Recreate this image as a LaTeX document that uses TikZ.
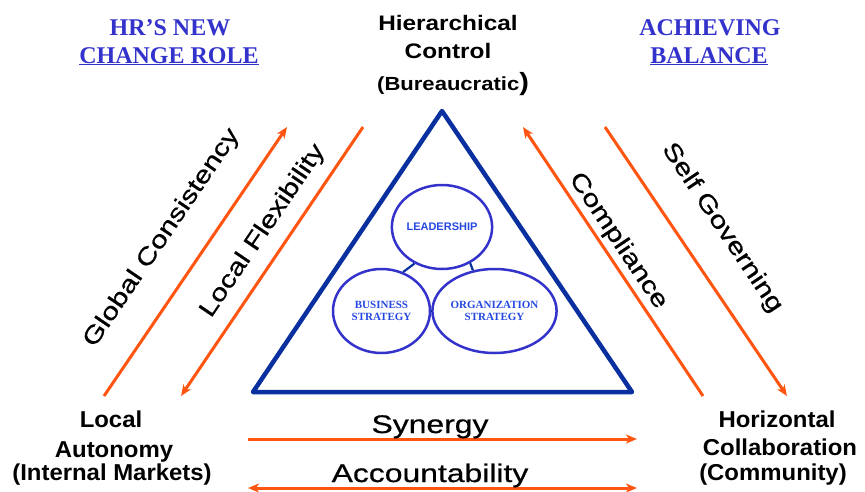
\documentclass[tikz,border=0pt]{standalone}
\usepackage{fontspec}
\setmainfont{Liberation Serif}
\newfontfamily\arialfont{Liberation Sans}
\newfontfamily\widefont[FakeStretch=1.25,FakeBold=0.6]{Liberation Sans}
\newfontfamily\headfont[FakeStretch=1.16]{Liberation Sans}
\newfontfamily\cornerfont[FakeStretch=1.04]{Liberation Sans}
\usetikzlibrary{arrows.meta,shapes.geometric}
\definecolor{titleblue}{HTML}{3333CC}
\definecolor{triblue}{HTML}{0A2F9E}
\definecolor{circblue}{HTML}{3333CC}
\definecolor{circtext}{HTML}{2448E0}
\definecolor{arrorange}{HTML}{FF5511}
\tikzset{
  x=1pt, y=-1pt,
  title/.style={font=\fontsize{24}{26}\selectfont\bfseries, text=titleblue, inner sep=0pt, anchor=base},
  head/.style={font=\fontsize{21}{23}\selectfont\headfont\bfseries, inner sep=0pt, anchor=base},
  corner/.style={font=\fontsize{23}{25}\selectfont\cornerfont\bfseries, inner sep=0pt, anchor=base},
  wide/.style={font=\fontsize{24}{26}\selectfont\widefont, inner sep=0pt},
  arr/.style={draw=arrorange, line width=3pt},
  circ/.style={draw=circblue, line width=2.5pt, ellipse, inner sep=0pt, align=center, text=circtext},
  link/.style={draw=triblue, line width=2.2pt},
}
\begin{document}
\begin{tikzpicture}
\useasboundingbox (0,0) rectangle (865,491);

% titles
\node[title] (t1) at (170,35) {HR’S NEW};
\node[title] (t2) at (169,63) {\underline{CHANGE ROLE}};
\node[title] (t3) at (710,35) {ACHIEVING};
\node[title] (t4) at (709,63) {\underline{BALANCE}};

% top label
\node[head] (h1) at (448,30) {Hierarchical};
\node[head] (h2) at (448,58) {Control};
\node[head, anchor=base west, font=\fontsize{19}{21}\selectfont\headfont\bfseries] (h3) at (377,90) {(Bureaucratic\fontsize{25}{25}\selectfont)};

% corner labels
\node[corner] (l1) at (111,427) {Local};
\node[corner] (l2) at (114,457) {Autonomy};
\node[corner] (l3) at (112,480) {(Internal Markets)};
\node[corner] (r1) at (777,427) {Horizontal};
\node[corner] (r2) at (780,455) {Collaboration};
\node[corner] (r3) at (773,480) {(Community)};

% triangle
\coordinate (ta) at (442,111);
\coordinate (tl) at (253,392);
\coordinate (tr) at (632,392);
\draw[triblue, line width=4.5pt, line join=round] (ta) -- (tl) -- (tr) -- cycle;

% circles
\node[circ, minimum width=98pt, minimum height=84pt, font=\fontsize{11}{12}\selectfont\arialfont\bfseries] (lead) at (442,227) {LEADERSHIP};
\node[circ, minimum width=97pt, minimum height=84pt, font=\fontsize{11}{12.5}\selectfont\bfseries] (bus) at (381.5,311) {BUSINESS\\STRATEGY};
\node[circ, minimum width=95pt, minimum height=84pt, font=\fontsize{11}{12.5}\selectfont\bfseries] (org) at (494.5,311) {ORGANIZATION\\STRATEGY};
\draw[link] (lead.233) -- (bus.61);
\draw[link] (lead.308) -- (org.118);
\draw[link] (bus.east) -- (org.west);

% diagonal arrows
\coordinate (gc1) at (104,396);
\coordinate (gc2) at (287,127);
\coordinate (lf1) at (363,127);
\coordinate (lf2) at (181,396);
\coordinate (co1) at (703,396);
\coordinate (co2) at (523,127);
\coordinate (sg1) at (605,127);
\coordinate (sg2) at (787,396);
\draw[arr, -{Stealth[length=11pt,width=9pt,inset=3pt]}] (gc1) -- (gc2);
\draw[arr, -{Stealth[length=11pt,width=9pt,inset=3pt]}] (lf1) -- (lf2);
\draw[arr, -{Stealth[length=11pt,width=9pt,inset=3pt]}] (co1) -- (co2);
\draw[arr, -{Stealth[length=11pt,width=9pt,inset=3pt]}] (sg1) -- (sg2);

\node[wide, rotate=55.8] (gc) at (162,238) {Global Consistency};
\node[wide, rotate=55.8] (lf) at (263,231) {Local Flexibility};
\node[wide, rotate=-56.2] (co) at (618,241) {Compliance};
\node[wide, rotate=-56.2] (sg) at (722,228) {Self Governing};

% horizontal arrows
\coordinate (sy1) at (248,439);
\coordinate (sy2) at (637,439);
\coordinate (ac1) at (248,488);
\coordinate (ac2) at (637,488);
\draw[arr, -{Stealth[length=11pt,width=9pt,inset=3pt]}] (sy1) -- (sy2);
\draw[arr, {Stealth[length=11pt,width=9pt,inset=3pt]}-{Stealth[length=11pt,width=9pt,inset=3pt]}] (ac1) -- (ac2);
\node[wide, anchor=base, font=\fontsize{25.5}{27}\selectfont\widefont] (sy) at (430,433) {Synergy};
\node[wide, anchor=base, font=\fontsize{25.5}{27}\selectfont\widefont] (ac) at (430,482) {Accountability};
\end{tikzpicture}
\end{document}
